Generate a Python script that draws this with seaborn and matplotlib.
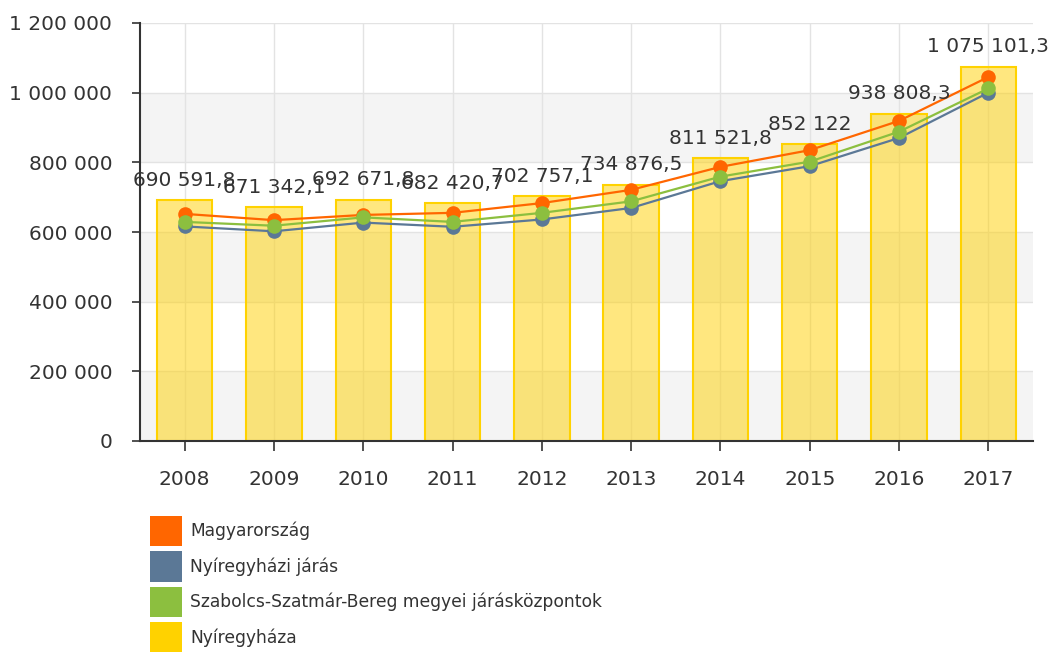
import numpy as np
import pandas as pd
import seaborn as sns
import matplotlib
matplotlib.use("Agg")
from matplotlib import pyplot as plt
from matplotlib.patches import Patch
from matplotlib.ticker import FuncFormatter, MultipleLocator

# data
years = [2008, 2009, 2010, 2011, 2012, 2013, 2014, 2015, 2016, 2017]
nyiregyhaza = [690591.8, 671342.1, 692671.8, 682420.7, 702757.1,
               734876.5, 811521.8, 852122, 938808.3, 1075101.3]
magyarorszag = [652000, 634000, 649000, 655000, 683000,
                721000, 787000, 835000, 919000, 1045000]
nyiregyhazi_jaras = [616000, 602000, 627000, 615000, 636000,
                     669000, 746000, 789000, 870000, 1000000]
szszb_kozpontok = [629000, 618000, 642000, 629000, 655000,
                   688000, 759000, 802000, 888000, 1012000]

series_names = ["Magyarország", "Nyíregyházi járás",
                "Szabolcs-Szatmár-Bereg megyei járásközpontok", "Nyíregyháza"]
colors = ["#ff6600", "#5b7896", "#8cbf3f", "#ffd200"]

lines = pd.DataFrame({
    "year": years * 3,
    "value": magyarorszag + nyiregyhazi_jaras + szszb_kozpontok,
    "series": [series_names[0]] * 10 + [series_names[1]] * 10 + [series_names[2]] * 10,
})

sns.set_theme(style="white")
plt.rcParams["font.family"] = ["DejaVu Sans"]
txt = "#333333"

fig = plt.figure(figsize=(10.53, 6.55), dpi=100)
ax = fig.add_axes([140 / 1053, 1 - 441 / 655, 893 / 1053, 418 / 655])

# alternating background bands
for lo in (0, 400000, 800000):
    ax.axhspan(lo, lo + 200000, color="#f4f4f4", zorder=0, lw=0)
ax.grid(True, color="#e3e3e3", linewidth=1)
ax.set_axisbelow(True)

# bars (Nyíregyháza)
sns.barplot(x=years, y=nyiregyhaza, native_scale=True, color=colors[3],
            saturation=1, width=0.62, ax=ax, zorder=2)
for p in ax.containers[0]:
    p.set_facecolor((1.0, 0.82, 0.0, 0.5))
    p.set_edgecolor(colors[3])
    p.set_linewidth(1.5)

# lines
sns.lineplot(data=lines, x="year", y="value", hue="series",
             hue_order=series_names[:3], palette=colors[:3],
             marker="o", markersize=10.5, markeredgewidth=0, linewidth=1.6,
             legend=False, ax=ax, zorder=3)

def hu(v):
    s = f"{v:,.0f}" if float(v).is_integer() else f"{v:,.1f}"
    return s.replace(",", " ").replace(".", ",")

for x, v in zip(years, nyiregyhaza):
    ax.annotate(hu(v), (x, v), xytext=(0, 14.5), textcoords="offset points",
                ha="center", va="center", fontsize=14.5, color=txt, zorder=4)

ax.set_xlim(2007.5, 2017.5)
ax.set_ylim(0, 1200000)
ax.set_xticks(years)
ax.yaxis.set_major_locator(MultipleLocator(200000))
ax.yaxis.set_major_formatter(FuncFormatter(lambda v, _: hu(int(v))))
ax.set_xlabel("")
ax.set_ylabel("")

for s in ("top", "right"):
    ax.spines[s].set_visible(False)
for s in ("left", "bottom"):
    ax.spines[s].set_color(txt)
    ax.spines[s].set_linewidth(1.5)
ax.tick_params(axis="y", length=6, width=1.2, color=txt, pad=14,
               labelsize=14.5, labelcolor=txt, left=True)
ax.tick_params(axis="x", length=7, width=1.2, color=txt, pad=14,
               labelsize=14.5, labelcolor=txt, bottom=True)

handles = [Patch(facecolor=c, edgecolor="none") for c in colors]
fig.legend(handles, series_names, loc="upper left",
           bbox_to_anchor=(150 / 1053, 1 - 516 / 655), frameon=False,
           fontsize=12.3, handlelength=1.9, handleheight=2.35,
           handletextpad=0.45, labelspacing=0.3, borderpad=0,
           borderaxespad=0, labelcolor=txt)

plt.savefig("out.png", dpi=100)
